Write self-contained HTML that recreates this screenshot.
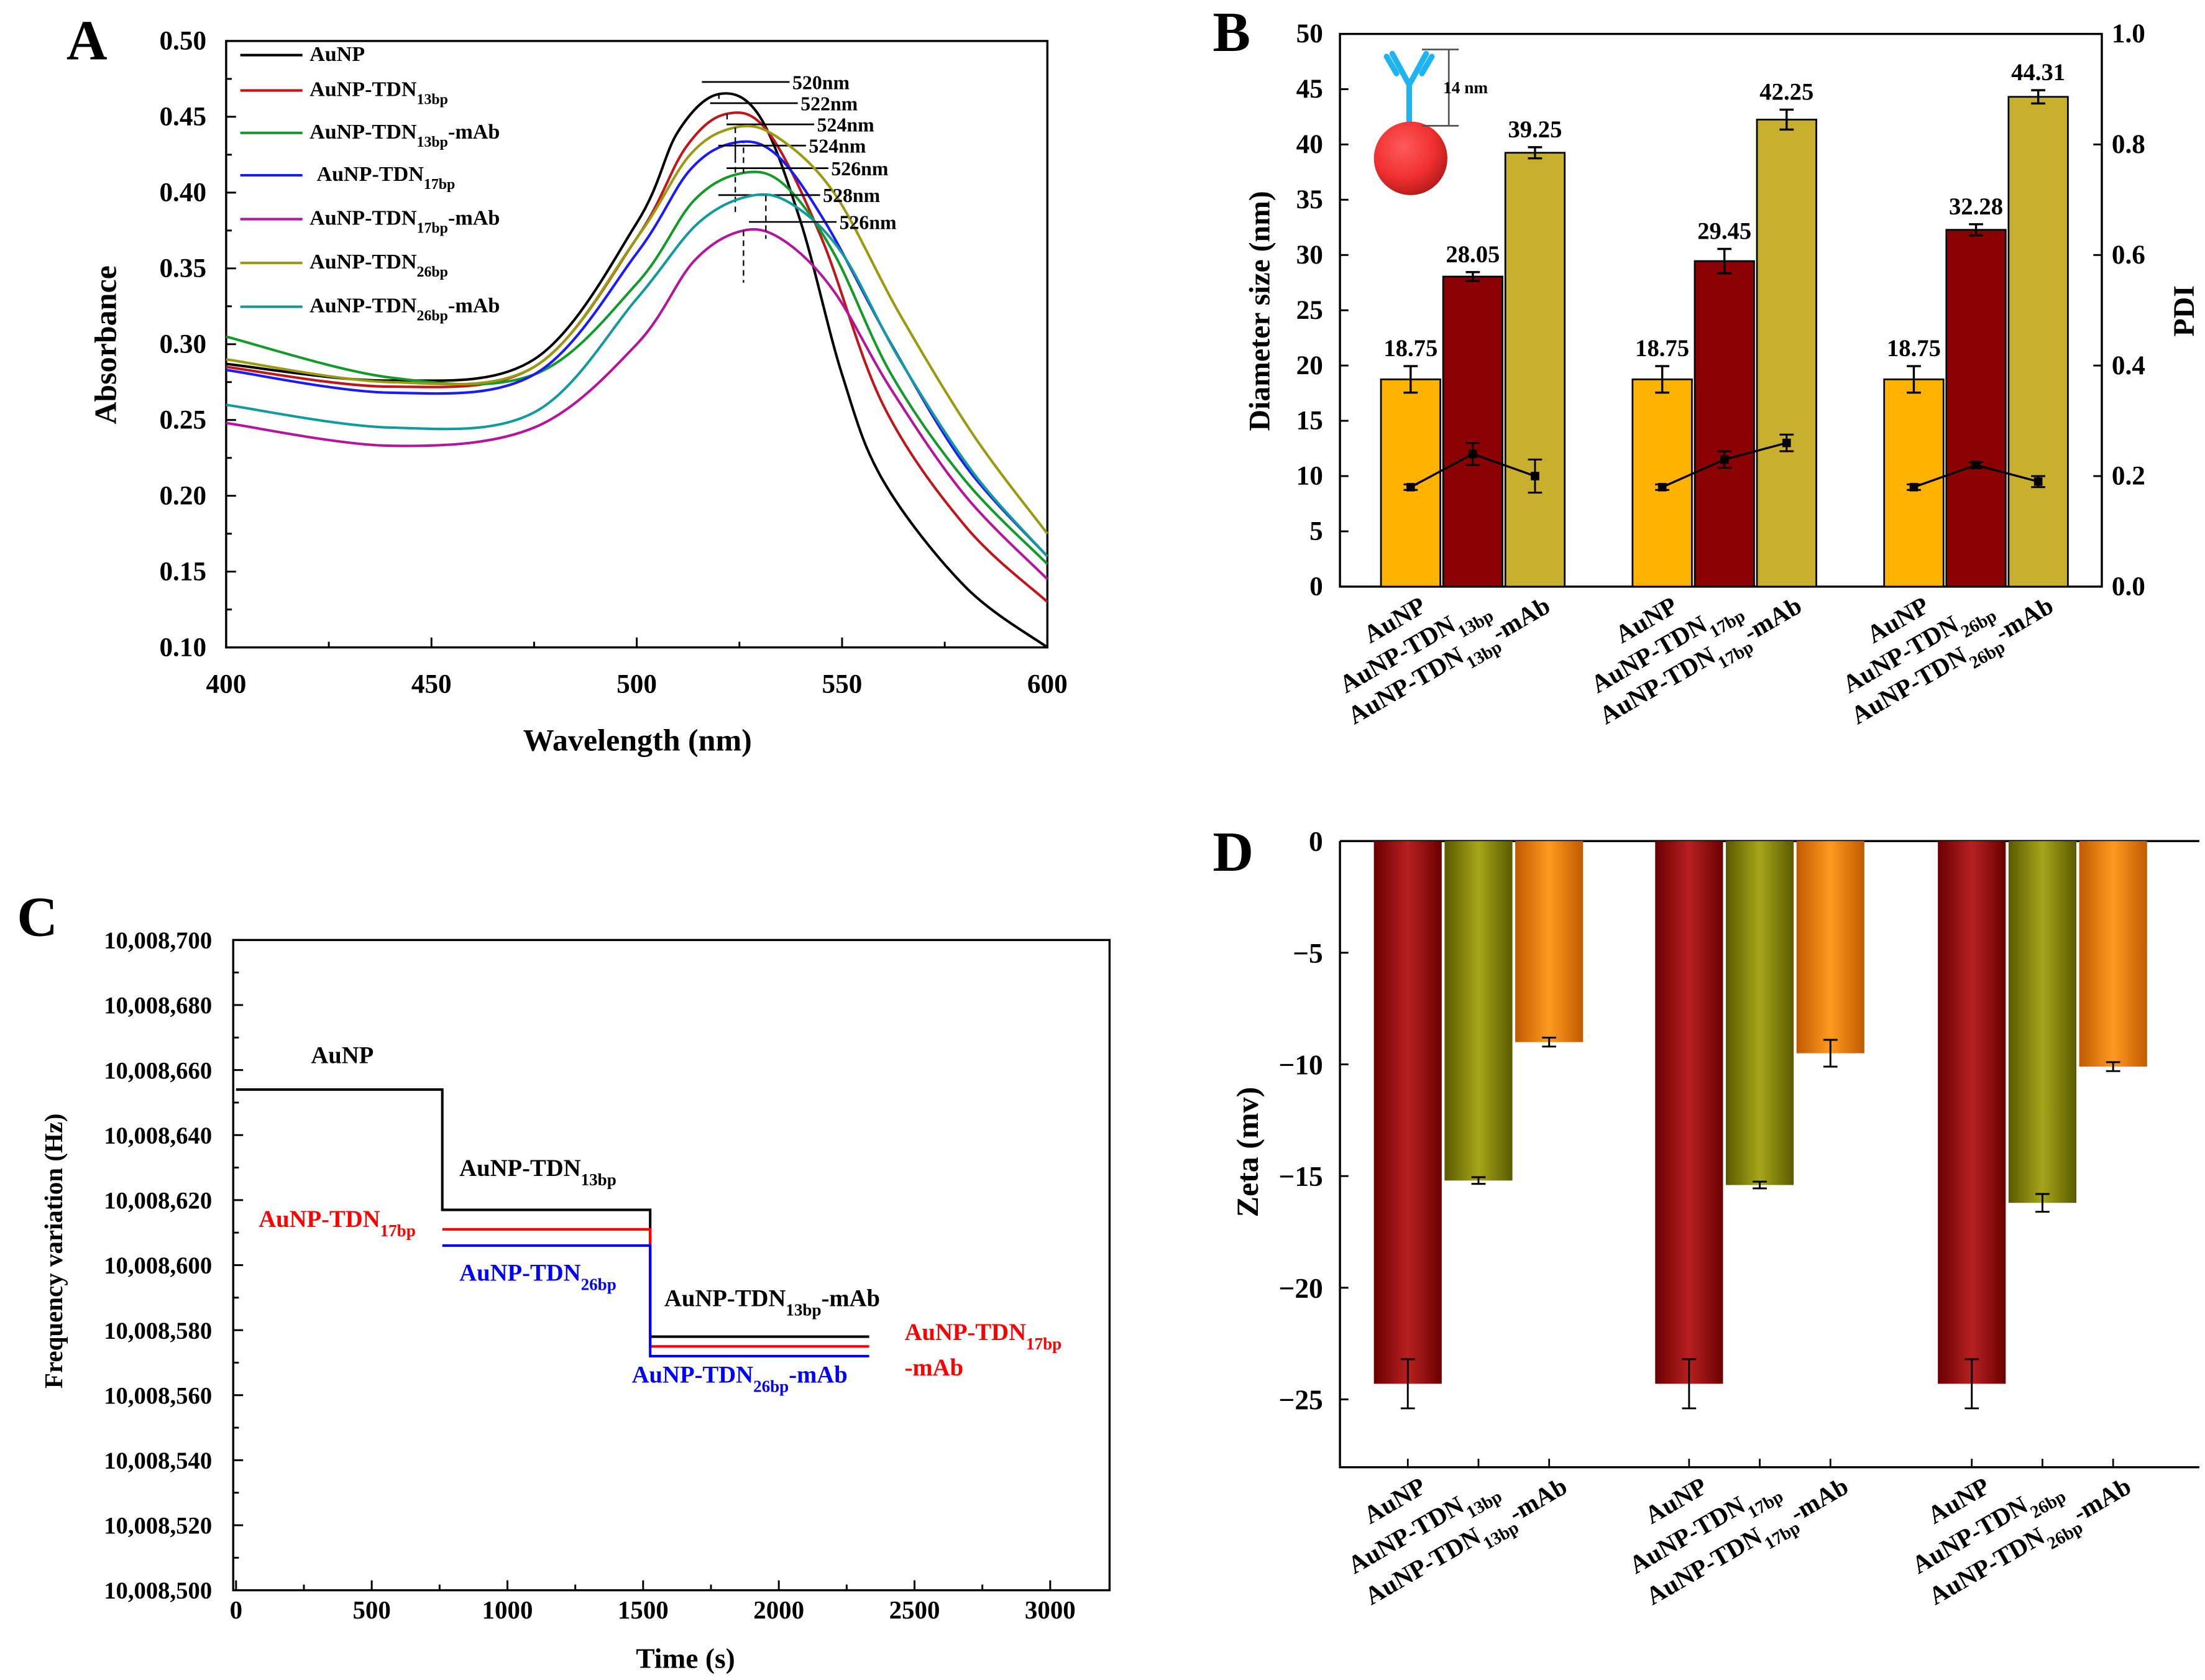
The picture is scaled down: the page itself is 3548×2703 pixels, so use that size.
<!DOCTYPE html>
<html><head><meta charset="utf-8">
<style>
html,body{margin:0;padding:0;background:#fff;}
svg{display:block;}
svg text, svg tspan{font-family:"Liberation Serif","Times New Roman",serif;font-weight:bold;}
</style></head>
<body>
<svg id="fig" xmlns="http://www.w3.org/2000/svg" width="3548" height="2703" viewBox="0 0 1560 1188.5" preserveAspectRatio="none" font-family="Liberation Serif, serif" font-weight="bold">
<defs>
<radialGradient id="ball" cx="0.4" cy="0.35" r="0.7"><stop offset="0" stop-color="#ff5a5a"/><stop offset="0.6" stop-color="#f03030"/><stop offset="1" stop-color="#b01818"/></radialGradient>
<linearGradient id="gRed" x1="0" x2="1"><stop offset="0" stop-color="#6a0000"/><stop offset="0.5" stop-color="#b82020"/><stop offset="1" stop-color="#6a0000"/></linearGradient>
<linearGradient id="gOl" x1="0" x2="1"><stop offset="0" stop-color="#5a5a00"/><stop offset="0.5" stop-color="#a6a61a"/><stop offset="1" stop-color="#5a5a00"/></linearGradient>
<linearGradient id="gOr" x1="0" x2="1"><stop offset="0" stop-color="#c05a00"/><stop offset="0.5" stop-color="#ff9a20"/><stop offset="1" stop-color="#c05a00"/></linearGradient>
</defs>
</svg>
<script>
// ---------- Panel A data ----------
const wlAuNP=[400,440,475,500,510,520,530,540,550,560,580,600];
const absAuNP=[0.287,0.276,0.290,0.38,0.44,0.465,0.45,0.38,0.28,0.21,0.14,0.10];
const wl13=[400,440,475,500,512,522,532,545,560,580,600];
const abs13=[0.285,0.272,0.285,0.37,0.43,0.452,0.44,0.37,0.26,0.18,0.13];
const wl13m=[400,440,475,500,514,526,536,548,562,580,600];
const abs13m=[0.305,0.278,0.28,0.34,0.395,0.413,0.405,0.36,0.28,0.21,0.155];
const wl17=[400,440,475,500,513,524,534,546,562,580,600];
const abs17=[0.283,0.268,0.28,0.36,0.415,0.433,0.425,0.38,0.30,0.22,0.16];
const wl17m=[400,440,475,500,514,526,536,548,562,580,600];
const abs17m=[0.248,0.233,0.245,0.30,0.355,0.375,0.368,0.335,0.27,0.20,0.145];
const wl26=[400,440,475,500,513,524,534,548,564,582,600];
const abs26=[0.29,0.275,0.285,0.37,0.425,0.443,0.437,0.40,0.32,0.24,0.175];
const wl26m=[400,440,475,500,515,528,538,550,564,582,600];
const abs26m=[0.26,0.245,0.255,0.33,0.38,0.398,0.392,0.36,0.29,0.215,0.16];
const seriesNamesA=["AuNP","AuNP-TDN|13bp","AuNP-TDN|13bp|-mAb","AuNP-TDN|17bp","AuNP-TDN|17bp|-mAb","AuNP-TDN|26bp","AuNP-TDN|26bp|-mAb"];
const peakLabels=["520nm","522nm","524nm","524nm","526nm","528nm","526nm"];
// ---------- Panel B data ----------
const catsB=["AuNP","AuNP-TDN|13bp","AuNP-TDN|13bp|-mAb","AuNP","AuNP-TDN|17bp","AuNP-TDN|17bp|-mAb","AuNP","AuNP-TDN|26bp","AuNP-TDN|26bp|-mAb"];
const sizeB=[18.75,28.05,39.25,18.75,29.45,42.25,18.75,32.28,44.31];
const sizeErrB=[1.2,0.4,0.5,1.2,1.1,0.9,1.2,0.5,0.6];
const pdiB=[0.18,0.24,0.20,0.18,0.23,0.26,0.18,0.22,0.19];
const pdiErrB=[0.005,0.02,0.03,0.005,0.015,0.015,0.005,0.005,0.01];
// ---------- Panel C data ----------
const stepTimes=[0,760,1526,2333];
const freq13=[10008654,10008617,10008578];
const freq17=[null,10008611,10008575];
const freq26=[null,10008606,10008572];
// ---------- Panel D data ----------
const zetaD=[-24.3,-15.2,-9.0,-24.3,-15.4,-9.5,-24.3,-16.2,-10.1];
const zetaErrD=[1.1,0.15,0.2,1.1,0.15,0.6,1.1,0.4,0.2];

const NS="http://www.w3.org/2000/svg";
const svg=document.getElementById('fig');
const FF='"Liberation Serif", serif';
function mk(tag,attrs,parent){const e=document.createElementNS(NS,tag);for(const k in attrs)e.setAttribute(k,attrs[k]);(parent||svg).appendChild(e);return e;}
function txt(str,x,y,size,attrs,parent){const t=mk('text',Object.assign({x:x,y:y,'font-size':size,'font-family':FF,'font-weight':'bold'},attrs||{}),parent);
  t.style.fontFamily=FF;
  const parts=str.split('|');
  parts.forEach((p,i)=>{const s=mk('tspan',{},t);s.textContent=p;
    if(i===1){s.setAttribute('baseline-shift','sub');s.setAttribute('font-size',size*0.7);}
  });return t;}
function smooth(pts){let d=`M${pts[0][0]},${pts[0][1]}`;
  for(let i=0;i<pts.length-1;i++){const p0=pts[i-1]||pts[i],p1=pts[i],p2=pts[i+1],p3=pts[i+2]||p2;
    const c1=[p1[0]+(p2[0]-p0[0])/6,p1[1]+(p2[1]-p0[1])/6],c2=[p2[0]-(p3[0]-p1[0])/6,p2[1]-(p3[1]-p1[1])/6];
    d+=` C${c1[0]},${c1[1]} ${c2[0]},${c2[1]} ${p2[0]},${p2[1]}`;}return d;}

// ===== Panel A =====
(function(){
const L=160,R=741,T=29,B=458;
const xs=w=>L+(w-400)/200*(R-L), ys=a=>B-(a-0.10)/0.40*(B-T);
const g=mk('g',{});


const fr=mk('rect',{x:L,y:T,width:R-L,height:B-T,fill:'none',stroke:'#000','stroke-width':1.5},g);


for(let w=400;w<=600;w+=25){const x=xs(w);const len=(w%50===0)?7:4;
  mk('line',{x1:x,y1:B,x2:x,y2:B-len,stroke:'#000','stroke-width':1.3},g);
  if(w%50===0){const t=txt(String(w),x,490,19,{'text-anchor':'middle'},g);
    
    }}
for(let i=0;i<=16;i++){const a=0.10+i*0.025;const y=ys(a);const len=(i%2===0)?7:4;
  mk('line',{x1:L,y1:y,x2:L+len,y2:y,stroke:'#000','stroke-width':1.3},g);
  if(i%2===0){const t=txt(a.toFixed(2),146,y+6,19,{'text-anchor':'end'},g);
    
    }}
let t=txt('Wavelength (nm)',451,531,22,{'text-anchor':'middle'},g);


t=txt('Absorbance',82,244,22,{'text-anchor':'middle',transform:'rotate(-90 82 244)'},g);


t=txt('A',47,42,40,{},g);


const cols=['#000','#c0161b','#139a2a','#1a1aff','#b4169b','#9a9a10','#149a9a'];
const WL=[wlAuNP,wl13,wl13m,wl17,wl17m,wl26,wl26m];
const AB=[absAuNP,abs13,abs13m,abs17,abs17m,abs26,abs26m];
const legY=[43,68,98,128,159,190,221];
const annY=[58,73,88,103,119,138,157];
for(let s=0;s<7;s++){
  const pts=WL[s].map((w,i)=>[xs(w),ys(AB[s][i])]);
  const p=mk('path',{d:smooth(pts),fill:'none',stroke:cols[s],'stroke-width':1.8},g);
  
  
  const ln=mk('line',{x1:170,y1:legY[s]-4,x2:214,y2:legY[s]-4,stroke:cols[s],'stroke-width':1.8},g);
  
  
  const lt=txt(seriesNamesA[s],s===3?224:219,legY[s],15,{},g);
  
  
  let mi=0;AB[s].forEach((v,i)=>{if(v>AB[s][mi])mi=i;});
  const px=xs(WL[s][mi]),py=ys(AB[s][mi]);
  const dl=mk('line',{x1:px+(s===6?10:0),y1:py,x2:px+(s===6?10:0),y2:s===4?200:annY[s]+12,stroke:'#000','stroke-width':1,'stroke-dasharray':'4,3'},g);
  
  
  const hl=mk('line',{x1:px-12+(s===6?10:0),y1:annY[s],x2:px+50+(s>3?10:0),y2:annY[s],stroke:'#000','stroke-width':1.2},g);
  
  
  const at=txt(peakLabels[s],px+52+(s>3?10:0),annY[s]+5,14,{},g);
  
  
}
})();

// ===== Panel B =====
(function(){
const L=948,R=1487,T=24,B=415;
const ys=v=>B-v/50*(B-T), yp=v=>B-v/1.0*(B-T);
const g=mk('g',{});


const fr=mk('rect',{x:L,y:T,width:R-L,height:B-T,fill:'none',stroke:'#000','stroke-width':1.5},g);


for(let v=0;v<=50;v+=5){const y=ys(v);mk('line',{x1:L,y1:y,x2:L+6,y2:y,stroke:'#000','stroke-width':1.3},g);
  const t=txt(String(v),936,y+6,19,{'text-anchor':'end'},g);
  
  }
for(let i=0;i<=5;i++){const v=i*0.2;const y=yp(v);mk('line',{x1:R,y1:y,x2:R-6,y2:y,stroke:'#000','stroke-width':1.3},g);
  const t=txt(v.toFixed(1),1494,y+6,19,{},g);
  
  }
let t=txt('Diameter size (nm)',898,220,21,{'text-anchor':'middle',transform:'rotate(-90 898 220)'},g);


t=txt('PDI',1552,220,21,{'text-anchor':'middle',transform:'rotate(-90 1552 220)'},g);


t=txt('B',858,36,40,{},g);


const cols=['#ffb300','#8b0000','#c8b02e'];
const bw=42;const centers=[];
const starts=[977,1155,1333];
for(let i=0;i<9;i++){const gi=Math.floor(i/3),k=i%3;const x=starts[gi]+k*44;const cx=x+bw/2;centers.push(cx);
  const r=mk('rect',{x:x,y:ys(sizeB[i]),width:bw,height:B-ys(sizeB[i]),fill:cols[k],stroke:'#000','stroke-width':1.2},g);
  
  
  const e1=ys(sizeB[i]+sizeErrB[i]),e2=ys(sizeB[i]-sizeErrB[i]);
  const eb=mk('path',{d:`M${cx},${e1}V${e2}M${cx-5},${e1}H${cx+5}M${cx-5},${e2}H${cx+5}`,stroke:'#000','stroke-width':1.5,fill:'none'},g);
  
  
  const vt=txt(sizeB[i].toFixed(2),cx,e1-7,17,{'text-anchor':'middle'},g);
  
  
  const lt=txt(catsB[i],cx+12,432,18,{'text-anchor':'end',transform:`rotate(-30 ${cx+12} 432)`},g);
  
  
}
for(let gi=0;gi<3;gi++){const pts=[0,1,2].map(k=>[centers[gi*3+k],yp(pdiB[gi*3+k])]);
  const pl=mk('polyline',{points:pts.map(p=>p.join(',')).join(' '),fill:'none',stroke:'#000','stroke-width':1.5},g);
  
  
  for(let k=0;k<3;k++){const i=gi*3+k;const cx=centers[i];
    const e1=yp(pdiB[i]+pdiErrB[i]),e2=yp(pdiB[i]-pdiErrB[i]);
    const eb=mk('path',{d:`M${cx},${e1}V${e2}M${cx-5},${e1}H${cx+5}M${cx-5},${e2}H${cx+5}`,stroke:'#000','stroke-width':1.3,fill:'none'},g);
    
    
    const pt=mk('rect',{x:cx-3,y:yp(pdiB[i])-3,width:6,height:6,fill:'#000'},g);
    
    }}
const ic=mk('g',{},g);


mk('path',{d:'M997,88V60M997,60L985,38M997,60L1009,38M988,52L981,40M1006,52L1013,40',stroke:'#1eb4f0','stroke-width':4,fill:'none','stroke-linecap':'round'},ic);
mk('circle',{cx:998,cy:112,r:26,fill:'url(#ball)'},ic);
mk('path',{d:'M1006,35H1032M1006,89H1032M1025,35V89',stroke:'#555','stroke-width':1.2,fill:'none'},ic);
txt('14 nm',1021,66,12,{'font-weight':'normal'},ic);
})();

// ===== Panel C =====
(function(){
const L=165,R=785,T=665,B=1125;
const xs=t=>167+t*0.192, ys=f=>B-(f-10008500)/200*(B-T);
const g=mk('g',{});


const fr=mk('rect',{x:L,y:T,width:R-L,height:B-T,fill:'none',stroke:'#000','stroke-width':1.5},g);


for(let t=0;t<=3000;t+=250){const x=xs(t);const len=t%500===0?7:4;mk('line',{x1:x,y1:B,x2:x,y2:B-len,stroke:'#000','stroke-width':1.3},g);
  if(t%500===0){const tl=txt(String(t),x,1145,18,{'text-anchor':'middle'},g);
    
    }}
for(let f=0;f<=200;f+=10){const y=ys(10008500+f);const len=f%20===0?7:4;mk('line',{x1:L,y1:y,x2:L+len,y2:y,stroke:'#000','stroke-width':1.3},g);
  if(f%20===0){const v=(10008500+f).toLocaleString('en-US');const tl=txt(v,150,y+6,17,{'text-anchor':'end'},g);
    
    }}
let t=txt('Time (s)',485,1180,20,{'text-anchor':'middle'},g);


t=txt('Frequency variation (Hz)',44,885,18,{'text-anchor':'middle',transform:'rotate(-90 44 885)'},g);


t=txt('C',12,662,40,{},g);


function trace(arr,col,name){let d='';let started=false;
  for(let i=0;i<arr.length;i++){if(arr[i]===null)continue;const y=ys(arr[i]);
    const x1=xs(stepTimes[i]),x2=xs(stepTimes[i+1]);
    if(!started){d+=`M${x1},${y}`;started=true;}else d+=`V${y}`;
    d+=`H${x2}`;}
  const p=mk('path',{d:d,fill:'none',stroke:col,'stroke-width':1.8},g);
  
  }
trace(freq13,'#000','trace-tdn13bp');
trace(freq17,'#f00','trace-tdn17bp');
trace(freq26,'#00f','trace-tdn26bp');
const ann=[['AuNP',220,752,'#000'],['AuNP-TDN|13bp',325,832,'#000'],['AuNP-TDN|17bp',183,868,'#f00'],['AuNP-TDN|26bp',325,906,'#00f'],
 ['AuNP-TDN|13bp|-mAb',470,924,'#000'],['AuNP-TDN|26bp|-mAb',447,978,'#00f'],['AuNP-TDN|17bp',640,948,'#f00'],['-mAb',640,973,'#f00']];
ann.forEach(a=>{const at=txt(a[0],a[1],a[2],17,{fill:a[3]},g);
  
  });
})();

// ===== Panel D =====
(function(){
const L=948,R=1556,T=595,B=1038;
const ys=v=>T-v/5*79;
const g=mk('g',{});


const ax=mk('path',{d:`M${L},${T}H${R}M${L},${T}V${B}H${R}`,stroke:'#000','stroke-width':1.5,fill:'none'},g);


for(let v=0;v>=-25;v-=5){const y=ys(v);mk('line',{x1:L,y1:y,x2:L+6,y2:y,stroke:'#000','stroke-width':1.3},g);
  const tl=txt(v===0?'0':'−'+(-v),936,y+7,20,{'text-anchor':'end','font-weight':'normal'},g);
  
  }
let t=txt('Zeta (mv)',890,815,22,{'text-anchor':'middle',transform:'rotate(-90 890 815)'},g);


t=txt('D',858,616,40,{},g);


const fills=['url(#gRed)','url(#gOl)','url(#gOr)'];
const starts=[972,1171,1371];
for(let i=0;i<9;i++){const gi=Math.floor(i/3),k=i%3;const x=starts[gi]+k*50;const cx=x+24;
  mk('line',{x1:cx,y1:B,x2:cx,y2:B-6,stroke:'#000','stroke-width':1.2},g);
  const r=mk('rect',{x:x,y:T,width:48,height:ys(zetaD[i])-T,fill:fills[k]},g);
  
  
  const e1=ys(zetaD[i]-zetaErrD[i]),e2=ys(zetaD[i]+zetaErrD[i]);
  const eb=mk('path',{d:`M${cx},${e1}V${e2}M${cx-5},${e1}H${cx+5}M${cx-5},${e2}H${cx+5}`,stroke:'#000','stroke-width':1.3,fill:'none'},g);
  
  
  const lt=txt(catsB[i],cx+14,1055,18,{'text-anchor':'end',transform:`rotate(-30 ${cx+14} 1055)`},g);
  
  
}
})();
</script>
</body></html>
